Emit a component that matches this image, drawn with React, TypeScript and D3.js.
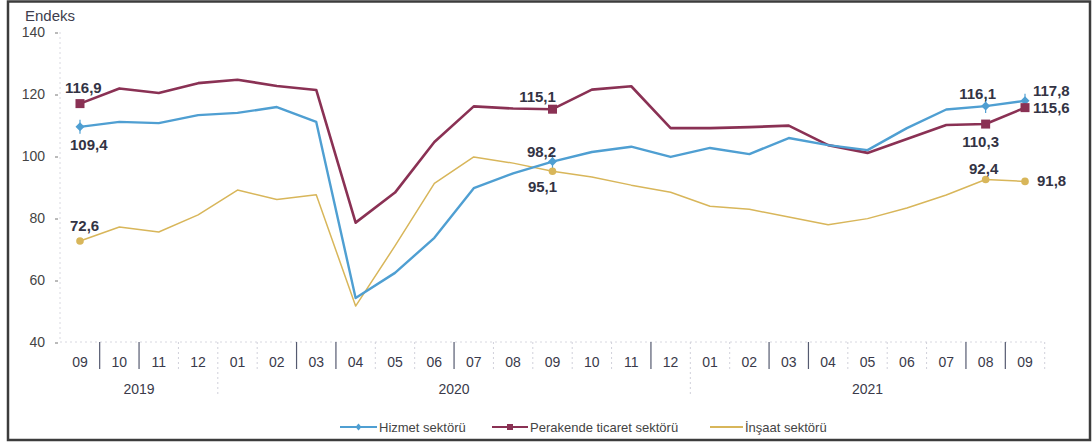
import React from "react";
import * as d3 from "d3";

const months = ["09","10","11","12","01","02","03","04","05","06","07","08","09","10","11","12","01","02","03","04","05","06","07","08","09"];
const years = [
  { label: "2019", from: 0, to: 3 },
  { label: "2020", from: 4, to: 15 },
  { label: "2021", from: 16, to: 24 },
];
const yTicks = [40, 60, 80, 100, 120, 140];

const hizmet = [109.4,111.0,110.6,113.2,113.9,115.8,111.0,54.2,62.3,73.6,89.6,94.4,98.2,101.3,103.0,99.7,102.6,100.6,105.8,103.5,101.9,109.0,115.0,116.1,117.8];
const perakende = [116.9,121.8,120.3,123.5,124.6,122.6,121.3,78.5,88.2,104.5,116.0,115.3,115.1,121.4,122.5,109.0,109.0,109.3,109.8,103.5,101.0,105.5,110.0,110.3,115.6];
const insaat = [72.6,77.1,75.5,81.0,89.0,86.0,87.5,51.6,71.0,91.2,99.7,97.7,95.1,93.2,90.6,88.3,83.8,82.8,80.3,77.8,79.8,83.2,87.4,92.4,91.8];

const labeledIdx = [0, 12, 23, 24];
// darker category separators (as in the scanned reference)
const darkDividers = [1, 2, 6, 7, 10, 15, 18, 19, 23, 24];

const series = [
  { name: "Hizmet sektörü", values: hizmet, color: "#4f9fd2", width: 2.4, marker: "diamond" },
  { name: "Perakende ticaret sektörü", values: perakende, color: "#8a3154", width: 2.6, marker: "square" },
  { name: "İnşaat sektörü", values: insaat, color: "#d8b65a", width: 1.5, marker: "circle" },
];

// label offsets per series/point (dx, dy relative to point, anchor)
const labelPos: Record<string, [number, number, string][]> = {
  "Hizmet sektörü": [[-10, 23, "start"], [-11, -5, "middle"], [-8, -7, "middle"], [8, -5, "start"]],
  "Perakende ticaret sektörü": [[-15, -11, "start"], [-15, -7, "middle"], [-5, 23, "middle"], [8, 5, "start"]],
  "İnşaat sektörü": [[-10, -10, "start"], [-10, 21, "middle"], [-2, -6, "middle"], [12, 5, "start"]],
};

const fmt = (v: number) => v.toFixed(1).replace(".", ",");

function Marker({ type, x, y, color }: { type: string; x: number; y: number; color: string }) {
  if (type === "square") return <rect x={x - 4.5} y={y - 4.5} width={9} height={9} fill={color} />;
  if (type === "diamond")
    return (
      <g>
        <path d={`M${x},${y - 4.5}L${x + 4.5},${y}L${x},${y + 4.5}L${x - 4.5},${y}Z`} fill={color} />
        <line x1={x} x2={x} y1={y - 7} y2={y + 7} stroke={color} strokeWidth={1.2} />
      </g>
    );
  return <circle cx={x} cy={y} r={3.8} fill={color} />;
}

export default function App() {
  const W = 1092, H = 444;
  const x = d3.scaleBand<number>().domain(d3.range(months.length)).range([60.3, 1044.7]).padding(0);
  const cx = (i: number) => (x(i) as number) + x.bandwidth() / 2;
  const y = d3.scaleLinear().domain([40, 140]).range([342, 32]);
  const line = d3.line<number>().x((_, i) => cx(i)).y((v) => y(v));
  const font = "Liberation Sans, Arial, sans-serif";
  const legendItems = [
    { s: series[0], x0: 340, x1: 377 },
    { s: series[1], x0: 492, x1: 528 },
    { s: series[2], x0: 710, x1: 743 },
  ];
  return (
    <svg width={W} height={H} style={{ position: "absolute", left: 0, top: 0, background: "#fff" }} fontFamily={font}>
      <rect x={8} y={1.5} width={1082} height={438.5} fill="none" stroke="#3c3c3c" strokeWidth={2.5} />
      <text x={25} y={21} fontSize={15} fill="#3d3d4d">Endeks</text>
      {/* y axis */}
      <line x1={60} x2={60} y1={32} y2={342} stroke="#d8d8e0" strokeDasharray="2,3" />
      {yTicks.map((t) => (
        <g key={t}>
          <text x={45} y={y(t) + 5} fontSize={14} fill="#444" textAnchor="end">{t}</text>
          <line x1={55} x2={58} y1={y(t) + 1} y2={y(t) + 1} stroke="#777" />
        </g>
      ))}
      {/* x axis baseline */}
      <line x1={60} x2={1045} y1={342} y2={342} stroke="#d8d8e0" strokeDasharray="2,3" />
      {d3.range(1, months.length).map((i) => {
        const xx = x(i) as number;
        const isYear = years.some((yr) => yr.from === i);
        const dark = darkDividers.includes(i);
        return (
          <line key={i} x1={xx} x2={xx} y1={342} y2={isYear ? 395 : 369}
            stroke={dark ? "#555a70" : "#d0d0da"} strokeWidth={dark ? 1.2 : 1}
            strokeDasharray={dark ? undefined : "2,3"} />
        );
      })}
      <line x1={1044.7} x2={1044.7} y1={342} y2={369} stroke="#d0d0da" strokeDasharray="2,3" />
      {months.map((m, i) => (
        <text key={i} x={cx(i)} y={367} fontSize={14} fill="#3a3a4a" textAnchor="middle">{m}</text>
      ))}
      {years.map((yr) => (
        <text key={yr.label} x={(cx(yr.from) + cx(yr.to)) / 2} y={394} fontSize={14} fill="#3a3a4a" textAnchor="middle">{yr.label}</text>
      ))}
      {/* lines */}
      {[series[2], series[1], series[0]].map((s) => (
        <path key={s.name} d={line(s.values) || ""} fill="none" stroke={s.color} strokeWidth={s.width} strokeLinejoin="round" />
      ))}
      {series.map((s) =>
        labeledIdx.map((i, k) => {
          const [dx, dy, anchor] = labelPos[s.name][k];
          return (
            <g key={s.name + i}>
              <Marker type={s.marker} x={cx(i)} y={y(s.values[i])} color={s.color} />
              <text x={cx(i) + dx} y={y(s.values[i]) + dy} fontSize={15} fontWeight="bold" fill="#333344"
                textAnchor={anchor as any}>{fmt(s.values[i])}</text>
            </g>
          );
        })
      )}
      {/* legend */}
      {legendItems.map(({ s, x0, x1 }) => (
        <g key={s.name}>
          <line x1={x0} x2={x1} y1={427} y2={427} stroke={s.color} strokeWidth={2.2} />
          {s.marker === "square" ? (
            <rect x={(x0 + x1) / 2 - 3} y={424} width={6} height={6} fill={s.color} />
          ) : s.marker === "diamond" ? (
            <path d={`M${(x0 + x1) / 2},${423.5}L${(x0 + x1) / 2 + 3},427L${(x0 + x1) / 2},430.5L${(x0 + x1) / 2 - 3},427Z`} fill={s.color} />
          ) : null}
          <text x={x1 + 2} y={431.5} fontSize={13} fill="#444">{s.name}</text>
        </g>
      ))}
    </svg>
  );
}
